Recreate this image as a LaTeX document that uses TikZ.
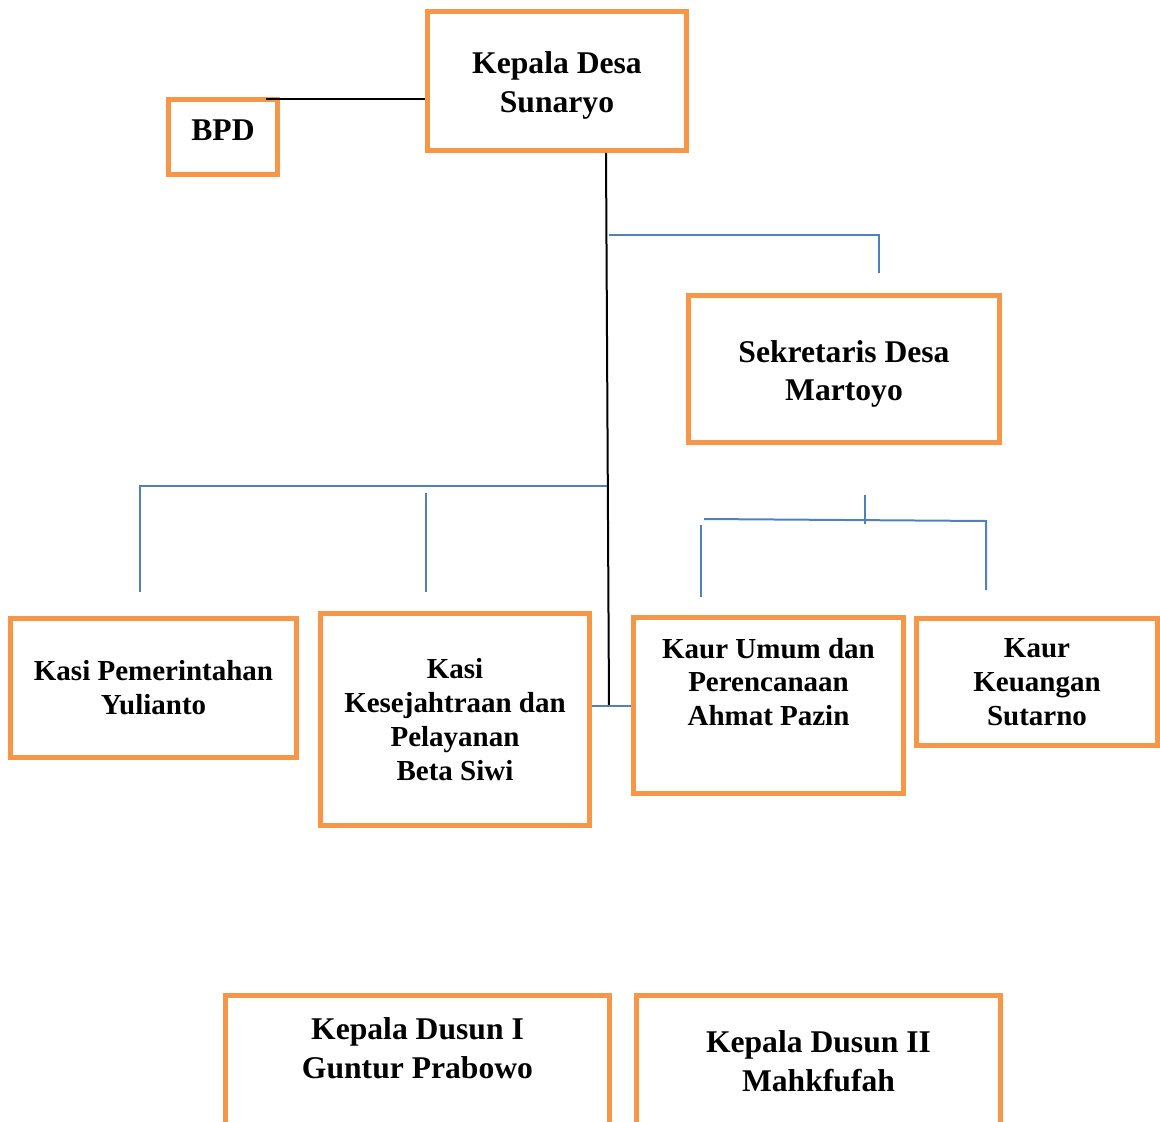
\documentclass[tikz,border=0pt]{standalone}
\usepackage{fontspec}
\setmainfont{Liberation Serif}
\definecolor{boxorange}{HTML}{F79646}
\definecolor{lineblue}{HTML}{4F81BD}
\begin{document}
\begin{tikzpicture}[
        x=0.02cm, y=-0.02cm,
        % kotak jabatan
        box/.style={
            rectangle, draw=boxorange, line width=0.1cm, fill=white,
            inner sep=0pt, align=center
        },
        bigtext/.style={font=\fontsize{18}{22}\selectfont\bfseries},
        smalltext/.style={font=\fontsize{16.5}{19.3}\selectfont\bfseries},
        blueline/.style={draw=lineblue, line width=0.04cm},
        blackline/.style={draw=black, line width=0.04cm}
    ]
        \useasboundingbox (0,0) rectangle (1160,1122);

        % Kepala desa dan BPD
        \node[box, minimum width=5.18cm, minimum height=2.78cm,
              label={[bigtext, align=center, yshift=-0.09cm]center:Kepala Desa\\Sunaryo}] (kades) at (557,81) {};
        \node[box, minimum width=2.18cm, minimum height=1.5cm,
              label={[bigtext, yshift=0.14cm]center:BPD}] (bpd) at (223,137) {};

        % Sekretaris desa
        \node[box, minimum width=6.22cm, minimum height=2.94cm,
              label={[bigtext, align=center, yshift=-0.1cm]center:Sekretaris Desa\\Martoyo}] (sekdes) at (844,369) {};

        % Kasi dan Kaur
        \node[box, smalltext, minimum width=5.72cm, minimum height=2.78cm] (kasipem) at (153.5,688) {Kasi Pemerintahan\\Yulianto};
        \node[box, smalltext, minimum width=5.38cm, minimum height=4.24cm] (kasikes) at (455,719.5) {Kasi\\Kesejahtraan dan\\Pelayanan\\Beta Siwi};
        \node[box, minimum width=5.4cm, minimum height=3.52cm,
              label={[smalltext, align=center, yshift=0.47cm]center:Kaur Umum dan\\Perencanaan\\Ahmat Pazin}] (kaurum) at (768.5,705.5) {};
        \node[box, smalltext, minimum width=4.82cm, minimum height=2.54cm] (kaurkeu) at (1037,682) {Kaur\\Keuangan\\Sutarno};

        % Kepala dusun
        \node[box, minimum width=7.68cm, minimum height=3.1cm,
              label={[bigtext, align=center, yshift=0.5cm]center:Kepala Dusun I\\Guntur Prabowo}] (kadus1) at (417.5,1073) {};
        \node[box, minimum width=7.28cm, minimum height=3.1cm,
              label={[bigtext, align=center, yshift=0.24cm]center:Kepala Dusun II\\Mahkfufah}] (kadus2) at (818.5,1073) {};

        % titik bantu garis
        \coordinate (bpdj) at (266,99);
        \coordinate (spine) at (609,706);
        \coordinate (sdj) at (609,235);
        \coordinate (sdtop) at (879,273);
        \coordinate (kbar) at (607,486);
        \coordinate (kp) at (140,592);
        \coordinate (kk) at (426,592);
        \coordinate (kstub) at (865,495);
        \coordinate (ku) at (701,597);
        \coordinate (kkeu) at (986,590);

        % garis hitam
        \draw[blackline] (bpdj) -- (kades.west |- bpdj);
        \draw[blackline] (kades.south -| 606,0) -- (spine);

        % garis biru
        \draw[blueline] (kasikes.east |- spine) -- (kaurum.west |- spine);
        \draw[blueline] (sdj) -| (sdtop);
        \draw[blueline] (kbar) -| (kp);
        \draw[blueline] (kk) -- ++(0,-99);
        \draw[blueline] (kstub) -- ++(0,29);
        \draw[blueline] (704,519) -- (kkeu |- 521,521) -- (kkeu);
        \draw[blueline] (ku) -- ++(0,-72);

    \end{tikzpicture}
\end{document}
